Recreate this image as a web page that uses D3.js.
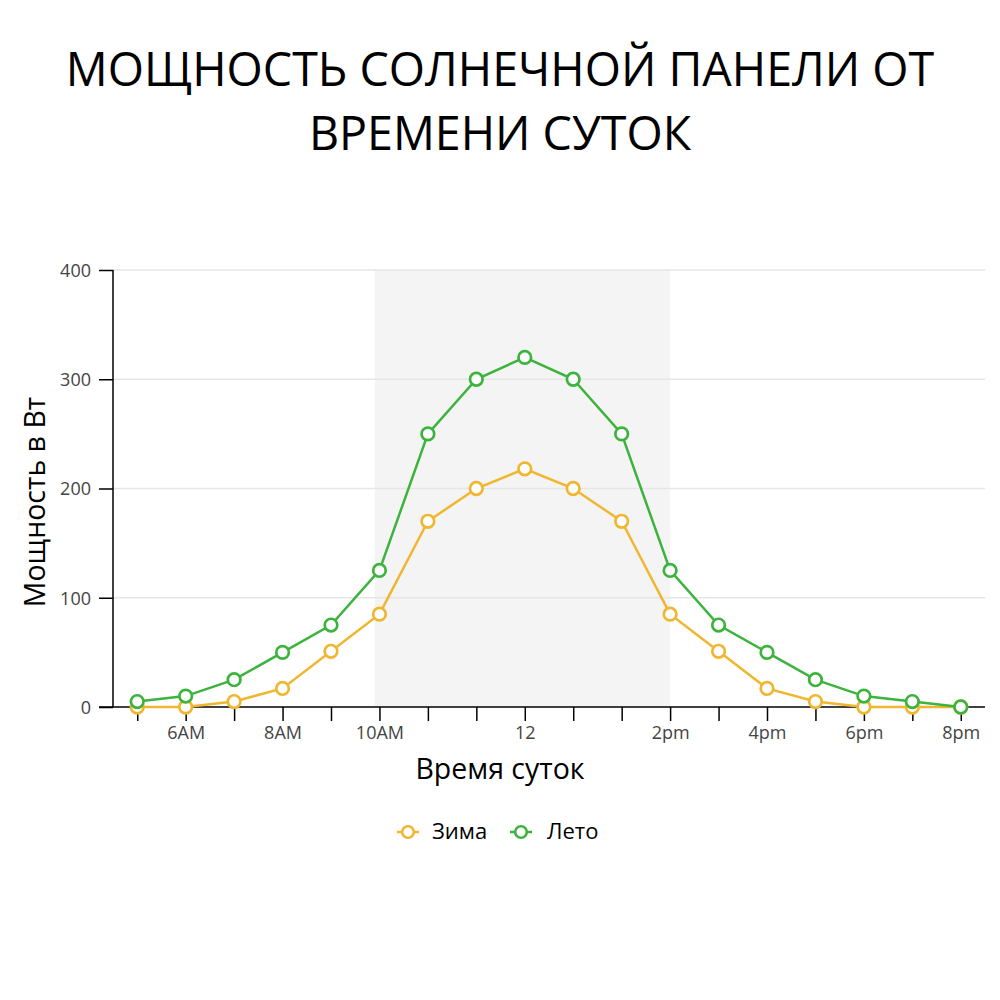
<!DOCTYPE html>
<html><head><meta charset="utf-8">
<script src="https://cdn.jsdelivr.net/npm/d3@7"></script>
<style>body{margin:0;background:#fff;} svg{display:block;font-family:"Open Sans",sans-serif;}</style>
</head><body>
<svg id="c" width="1000" height="1000"></svg>
<script>
const categories = ["5AM","6AM","7AM","8AM","9AM","10AM","11AM","11:30","12","12:30","1pm","2pm","3pm","4pm","5pm","6pm","7pm","8pm"];
const tickLabels = ["","6AM","","8AM","","10AM","","","12","","","2pm","","4pm","","6pm","","8pm"];
const winter = [0,0,5,17,51,85,170,200,218,200,170,85,51,17,5,0,0,0];
const summer = [5,10,25,50,75,125,250,300,320,300,250,125,75,50,25,10,5,0];
const yTicks = [0,100,200,300,400];
const bandRange = [4.9, 11];
const seriesNames = ["Зима","Лето"];
const colors = ["#F1B62F","#3CB33C"];

const svg = d3.select("#c");
const L=113, R=985, T=270, B=707;
const x = d3.scalePoint().domain(categories).range([L,R]).padding(0.5);
const y = d3.scaleLinear().domain([0,400]).range([B,T]);
const step = x.step();
const xi = i => x(categories[0]) + i*step;

// title
const title = svg.append("text").attr("text-anchor","middle").attr("font-size",46.6).attr("fill","#000");
title.append("tspan").attr("x",500).attr("y",86).text("МОЩНОСТЬ СОЛНЕЧНОЙ ПАНЕЛИ ОТ");
title.append("tspan").attr("x",500).attr("y",150).text("ВРЕМЕНИ СУТОК");

// band
svg.append("rect").attr("x",xi(bandRange[0])).attr("y",T).attr("width",xi(bandRange[1])-xi(bandRange[0])).attr("height",B-T).attr("fill","#f4f4f4");

// grid
svg.append("g").selectAll("line").data(yTicks.filter(d=>d>0)).join("line")
  .attr("x1",L).attr("x2",R).attr("y1",d=>y(d)).attr("y2",d=>y(d)).attr("stroke","#e6e6e6").attr("stroke-width",1.5);

// y axis
const ya = svg.append("g").attr("transform",`translate(${L},0)`)
  .call(d3.axisLeft(y).tickValues(yTicks).tickSize(14).tickPadding(8));
ya.select(".domain").attr("stroke","#000").attr("stroke-width",1.5).attr("d",`M0,${T}V${B}`);
ya.selectAll(".tick line").attr("stroke","#000").attr("stroke-width",1.5);
ya.selectAll(".tick text").attr("font-size",18).attr("fill","#444").attr("font-family","Open Sans").attr("dy","0.35em");

// x axis
const xa = svg.append("g").attr("transform",`translate(0,${B})`)
  .call(d3.axisBottom(x).tickFormat((d,i)=>tickLabels[i]).tickSize(14));
xa.select(".domain").attr("stroke","#000").attr("stroke-width",1.5).attr("d",`M${L-14},0H${R}`);
xa.selectAll(".tick line").attr("stroke","#000").attr("stroke-width",1.5);
xa.selectAll(".tick text").attr("font-size",18).attr("fill","#444").attr("font-family","Open Sans").attr("y",32).attr("dy",0);

// axis titles
svg.append("text").attr("x",500).attr("y",779).attr("text-anchor","middle").attr("font-size",28.5).attr("fill","#000").text("Время суток");
svg.append("text").attr("transform",`translate(45,502) rotate(-90)`).attr("text-anchor","middle").attr("font-size",28.5).attr("fill","#000").text("Мощность в Вт");

// series
const line = d3.line().x((d,i)=>x(categories[i])).y(d=>y(d));
[winter, summer].forEach((s,k)=>{
  const g = svg.append("g");
  g.append("path").attr("d",line(s)).attr("fill","none").attr("stroke",colors[k]).attr("stroke-width",2.5);
  g.selectAll("circle").data(s).join("circle").attr("cx",(d,i)=>x(categories[i])).attr("cy",d=>y(d))
    .attr("r",6.3).attr("fill","#fff").attr("stroke",colors[k]).attr("stroke-width",2.7);
});

// legend
const lx = [397, 510], tx = [432, 547];
seriesNames.forEach((n,k)=>{
  const g = svg.append("g");
  g.append("line").attr("x1",lx[k]).attr("x2",lx[k]+22).attr("y1",832).attr("y2",832).attr("stroke",colors[k]).attr("stroke-width",2.5);
  g.append("circle").attr("cx",lx[k]+11).attr("cy",832).attr("r",5.8).attr("fill","#fff").attr("stroke",colors[k]).attr("stroke-width",2.6);
  g.append("text").attr("x",tx[k]).attr("y",839).attr("font-size",22).attr("fill","#000").text(n);
});
</script>
</body></html>
